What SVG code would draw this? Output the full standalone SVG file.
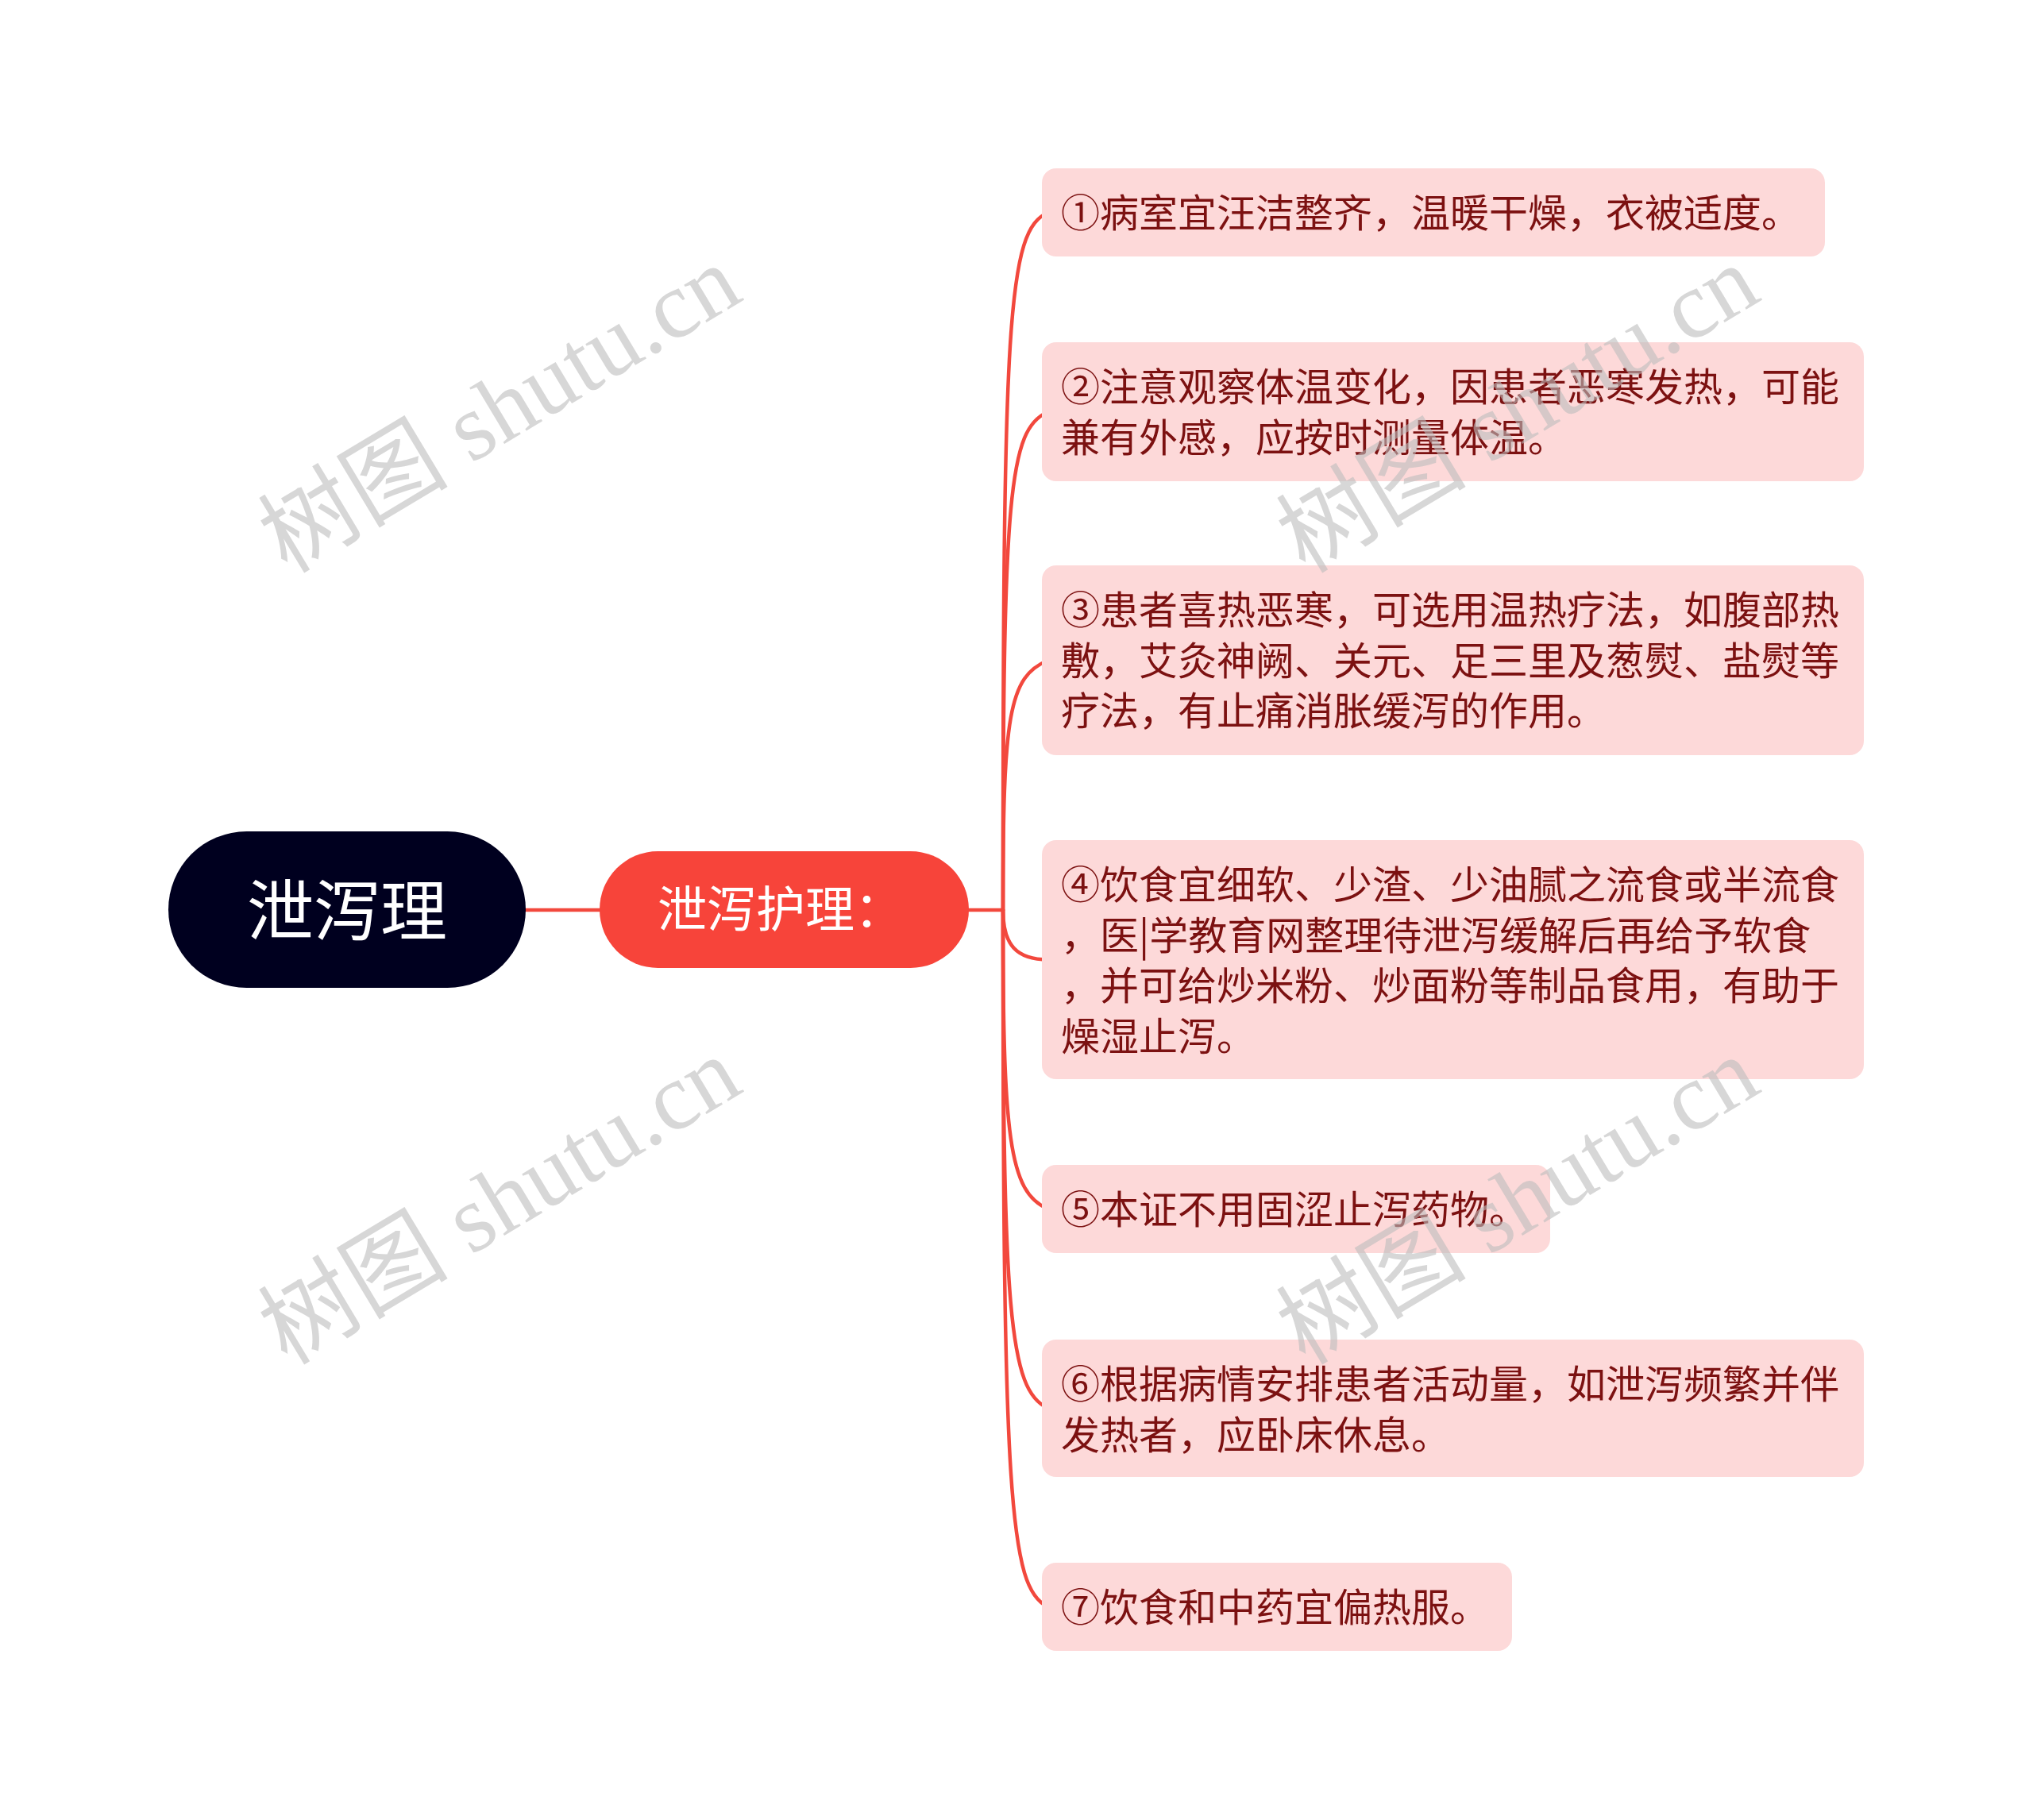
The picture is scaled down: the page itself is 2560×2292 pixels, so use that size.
<svg xmlns="http://www.w3.org/2000/svg" width="2560" height="2292" viewBox="0 0 2560 2292">
<style>
.conn{fill:none;stroke:#F2483D;stroke-width:4.5;stroke-linecap:round}
.box{fill:#FDD9D9}
.t{font-family:"Noto Sans CJK SC","Noto Sans",sans-serif;font-size:49px;fill:#7C1111}
.wm{font-family:"Liberation Serif","Noto Sans CJK SC",serif;font-size:120px;fill:#BDBDBD;fill-opacity:0.6}
</style>
<rect width="2560" height="2292" fill="#FFFFFF"/>
<g id="connectors">
<line class="conn" x1="660" y1="1146" x2="760" y2="1146"/>
<line class="conn" x1="1218" y1="1146" x2="1263" y2="1146"/>
<path class="conn" d="M1263 1146 C1263 400,1268 290,1320 267.5"/>
<path class="conn" d="M1263 1146 C1263 620,1270 540,1320 518.5"/>
<path class="conn" d="M1263 1146 C1263 900,1270 852,1320 831.5"/>
<path class="conn" d="M1263 1146 C1263 1190,1280 1208.5,1320 1208.5"/>
<path class="conn" d="M1263 1146 C1263 1430,1270 1502,1320 1522.5"/>
<path class="conn" d="M1263 1146 C1263 1650,1270 1752,1320 1773.5"/>
<path class="conn" d="M1263 1146 C1263 1880,1270 2002,1320 2023.5"/>
</g>
<g id="root">
<rect x="212" y="1047" width="450" height="197" rx="98.5" fill="#00001F"/>
<text x="437" y="1178" text-anchor="middle" font-family="Noto Sans CJK SC, sans-serif" font-size="84" fill="#FFFFFF">泄泻理</text>
</g>
<g id="main">
<rect x="755" y="1072" width="465" height="147" rx="73.5" fill="#F7443A"/>
<text x="828" y="1168" font-family="Noto Sans CJK SC, sans-serif" font-size="62" fill="#FFFFFF">泄泻护理：</text>
</g>
<g id="n1">
<rect class="box" x="1312" y="212" width="986" height="111" rx="18"/>
<text class="t" x="1336" y="286">①病室宜汪洁整齐，温暖干燥，衣被适度。</text>
</g>
<g id="n2">
<rect class="box" x="1312" y="431" width="1035" height="175" rx="18"/>
<text class="t" x="1336" y="505">②注意观察体温变化，因患者恶寒发热，可能</text>
<text class="t" x="1336" y="568.5">兼有外感，应按时测量体温。</text>
</g>
<g id="n3">
<rect class="box" x="1312" y="712" width="1035" height="239" rx="18"/>
<text class="t" x="1336" y="786">③患者喜热恶寒，可选用温热疗法，如腹部热</text>
<text class="t" x="1336" y="849.5">敷，艾灸神阙、关元、足三里及葱熨、盐熨等</text>
<text class="t" x="1336" y="913">疗法，有止痛消胀缓泻的作用。</text>
</g>
<g id="n4">
<rect class="box" x="1312" y="1058" width="1035" height="301" rx="18"/>
<text class="t" x="1336" y="1132">④饮食宜细软、少渣、少油腻之流食或半流食</text>
<text class="t" x="1336" y="1195.5">，医|学教育网整理待泄泻缓解后再给予软食</text>
<text class="t" x="1336" y="1259">，并可给炒米粉、炒面粉等制品食用，有助于</text>
<text class="t" x="1336" y="1322.5">燥湿止泻。</text>
</g>
<g id="n5">
<rect class="box" x="1312" y="1467" width="640" height="111" rx="18"/>
<text class="t" x="1336" y="1541">⑤本证不用固涩止泻药物。</text>
</g>
<g id="n6">
<rect class="box" x="1312" y="1687" width="1035" height="173" rx="18"/>
<text class="t" x="1336" y="1761">⑥根据病情安排患者活动量，如泄泻频繁并伴</text>
<text class="t" x="1336" y="1824.5">发热者，应卧床休息。</text>
</g>
<g id="n7">
<rect class="box" x="1312" y="1968" width="592" height="111" rx="18"/>
<text class="t" x="1336" y="2042">⑦饮食和中药宜偏热服。</text>
</g>
<g id="watermarks">
<text class="wm" text-anchor="middle" transform="translate(650 550) rotate(-31)">树图 shutu.cn</text>
<text class="wm" text-anchor="middle" transform="translate(1932 550) rotate(-31)">树图 shutu.cn</text>
<text class="wm" text-anchor="middle" transform="translate(650 1547) rotate(-31)">树图 shutu.cn</text>
<text class="wm" text-anchor="middle" transform="translate(1932 1547) rotate(-31)">树图 shutu.cn</text>
</g>
</svg>
